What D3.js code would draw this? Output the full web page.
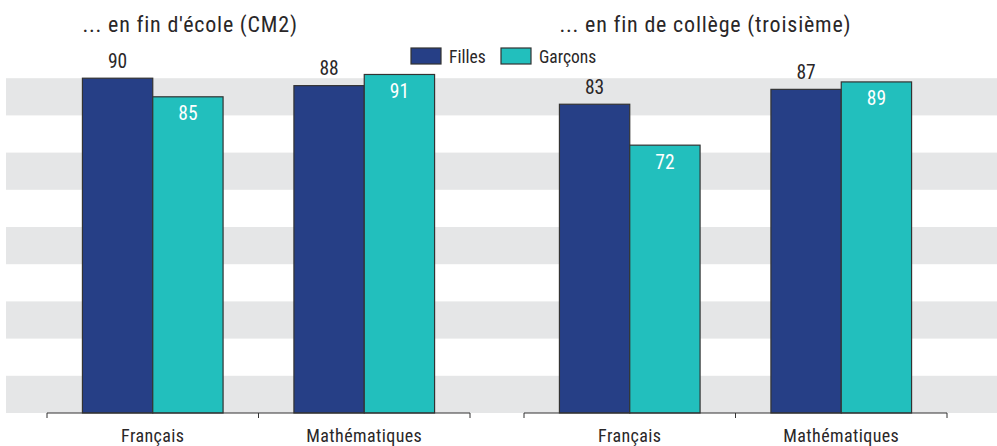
<!DOCTYPE html>
<html><head><meta charset="utf-8">
<script src="https://cdn.jsdelivr.net/npm/d3@7"></script>
<style>
body{margin:0;background:#fff;}
text{font-family:"Liberation Sans Narrow","Arial Narrow","Roboto Condensed",sans-serif;fill:#2a2728;}
</style></head>
<body><svg id="c" width="997" height="446"></svg>
<script>
const categories = ["Français", "Mathématiques"];
const panelTitles = ["... en fin d'école (CM2)", "... en fin de collège (troisième)"];
const seriesNames = ["Filles", "Garçons"];
const fillesEcole = [90, 88];
const garconsEcole = [85, 91];
const fillesCollege = [83, 87];
const garconsCollege = [72, 89];
const bandEdges = [0, 10, 20, 30, 40, 50, 60, 70, 80, 90];

const colors = {Filles: "#263f86", "Garçons": "#22bfbd"};
const panels = [
  {title: panelTitles[0], filles: fillesEcole, garcons: garconsEcole, x0: 47, x1: 470},
  {title: panelTitles[1], filles: fillesCollege, garcons: garconsCollege, x0: 524, x1: 947}
];

const svg = d3.select("#c");
const y = d3.scaleLinear().domain([0, 100]).range([413, 41]);

// background bands
const bands = bandEdges.filter((d, i) => i % 2 === 0);
svg.append("g").selectAll("rect").data(bands).join("rect")
  .attr("x", 6).attr("width", 991)
  .attr("y", d => y(d + 10)).attr("height", d => y(d) - y(d + 10))
  .attr("fill", "#e5e6e7");

panels.forEach(p => {
  const g = svg.append("g");
  const x = d3.scaleBand().domain(categories).range([p.x0, p.x1]).paddingInner(0.335).paddingOuter(0.1675);
  const xs = d3.scaleBand().domain(seriesNames).range([0, x.bandwidth()]);
  const rows = categories.map((c, i) => ({cat: c, vals: [
    {s: "Filles", v: p.filles[i]}, {s: "Garçons", v: p.garcons[i]}]}));
  const grp = g.selectAll("g.cat").data(rows).join("g")
    .attr("transform", d => `translate(${x(d.cat)},0)`);
  grp.selectAll("rect").data(d => d.vals).join("rect")
    .attr("x", d => xs(d.s)).attr("width", xs.bandwidth())
    .attr("y", d => y(d.v)).attr("height", d => y(0) - y(d.v))
    .attr("fill", d => colors[d.s]).attr("stroke", "#333").attr("stroke-width", 1.2);
  grp.selectAll("text").data(d => d.vals).join("text")
    .attr("x", d => xs(d.s) + xs.bandwidth() / 2)
    .attr("y", d => d.s === "Filles" ? y(d.v) - 10.5 : y(d.v) + 23.5)
    .attr("text-anchor", "middle").attr("font-size", 19.5)
    .style("fill", d => d.s === "Filles" ? "#2a2728" : "#ffffff")
    .text(d => d.v);
  // axis
  const ax = g.append("g").attr("transform", `translate(0,${y(0)})`)
    .call(d3.axisBottom(x).tickSize(0).tickPadding(0));
  ax.select(".domain").remove();
  ax.selectAll("text").attr("font-size", 18).attr("dy", 0).attr("y", 28.5)
    .style("fill", "#2a2728").style("letter-spacing", "0.4px")
    .attr("font-family", '"Liberation Sans Narrow","Arial Narrow",sans-serif');
  const bounds = [p.x0, (p.x0 + p.x1) / 2, p.x1];
  g.append("line").attr("x1", p.x0).attr("x2", p.x1).attr("y1", y(0)).attr("y2", y(0))
    .attr("stroke", "#333").attr("stroke-width", 1);
  g.selectAll("line.tk").data(bounds).join("line").attr("class", "tk")
    .attr("x1", d => d).attr("x2", d => d).attr("y1", y(0)).attr("y2", y(0) + 5)
    .attr("stroke", "#333").attr("stroke-width", 1);
  // title
  g.append("text").attr("x", x(categories[0])).attr("y", 32)
    .attr("font-size", 22).style("letter-spacing", "0.8px").text(p.title);
});

// legend
const leg = svg.append("g");
const legX = [411, 501];
seriesNames.forEach((s, i) => {
  leg.append("rect").attr("x", legX[i]).attr("y", 48).attr("width", 30).attr("height", 16)
    .attr("fill", colors[s]).attr("stroke", "#333").attr("stroke-width", 1.2);
  leg.append("text").attr("x", legX[i] + 38).attr("y", 63).attr("font-size", 17.5).text(s);
});
</script></body></html>
